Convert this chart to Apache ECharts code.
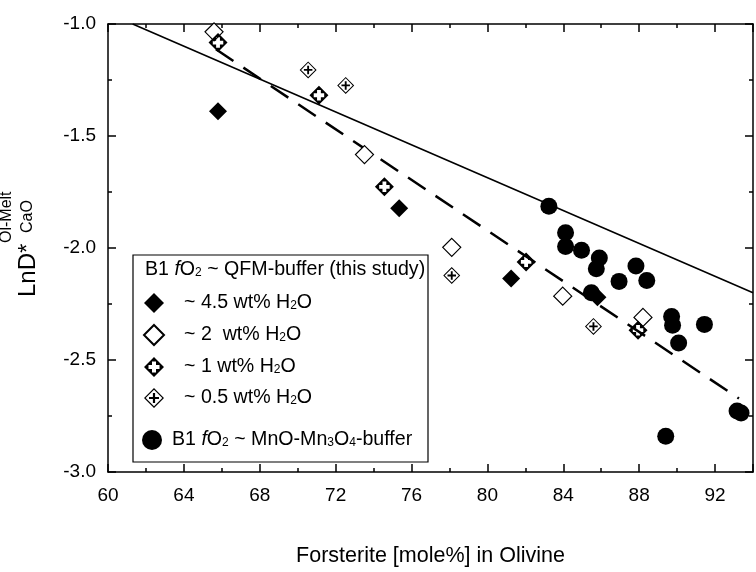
<!DOCTYPE html>
<html><head><meta charset="utf-8">
<script src="https://cdn.jsdelivr.net/npm/echarts@6/dist/echarts.min.js"></script>
<style>html,body{margin:0;padding:0;background:#fff}#c{width:756px;height:572px}</style>
</head><body><div id="c"></div>
<script>
const FONT = 'Liberation Sans, Arial, sans-serif';

// ---- data (Forsterite mole%, LnD*CaO) ----
const qfm45 = [[65.8,-1.39],[75.35,-1.823],[81.25,-2.136],[85.8,-2.22]];
const qfm2  = [[65.59,-1.035],[73.52,-1.583],[78.12,-1.997],[83.97,-2.215],[88.2,-2.31]];
const qfm1  = [[65.8,-1.083],[71.12,-1.318],[74.57,-1.727],[82.04,-2.062],[87.94,-2.367]];
const qfm05 = [[70.55,-1.205],[72.53,-1.274],[78.12,-2.123],[85.59,-2.35]];
const mnoBuffer = [[83.24,-1.814],[84.12,-1.932],[84.12,-1.993],[84.96,-2.01],[85.9,-2.045],
  [85.74,-2.093],[85.48,-2.2],[86.94,-2.149],[87.83,-2.08],[88.4,-2.145],[89.71,-2.306],
  [89.76,-2.345],[90.08,-2.424],[91.44,-2.341],[89.4,-2.84],[93.16,-2.728],[93.37,-2.737]];
const solidLine  = [[61.3,-1.0],[94,-2.2]];
const dashedLine = [[65.69,-1.113],[93.26,-2.672]];

// ---- axes ----
const xTicks = [60,64,68,72,76,80,84,88,92];
const xRange = [60,94];
const yTicks = [-3.0,-2.5,-2.0,-1.5,-1.0];
const yRange = [-3.0,-1.0];

const legendLabels = {
  s45: '{p| }~ 4.5 wt% H{s|2}O',
  s2:  '{p| }~ 2  wt% H{s|2}O',
  s1:  '{p| }~ 1 wt% H{s|2}O',
  s05: '{p| }~ 0.5 wt% H{s|2}O',
  mno: '{q| }B1 {i|f}O{s|2} ~ MnO-Mn{s|3}O{s|4}-buffer'
};
const headerText = 'B1 {i|f}O{s|2} ~ QFM-buffer (this study)';
const yTitle = ['LnD*', 'Ol-Melt', 'CaO'];
const xTitle = 'Forsterite [mole%] in Olivine';

const FILLED_CROSS = 'path://M10,0L20,10L10,20L0,10Z M8,4.5L8,8L4.5,8L4.5,12L8,12L8,15.5L12,15.5L12,12L15.5,12L15.5,8L12,8L12,4.5Z';
const OPEN_CROSS = 'path://M10,0L20,10L10,20L0,10Z M10,1.7L1.7,10L10,18.3L18.3,10Z M8.9,5L11.1,5L11.1,8.9L15,8.9L15,11.1L11.1,11.1L11.1,15L8.9,15L8.9,11.1L5,11.1L5,8.9L8.9,8.9Z';

const LF = 19.6;
const rich = {
  p: {width: 15, fontSize: LF, lineHeight: 18, fontFamily: FONT, color: '#000'},
  q: {width: 5, fontSize: LF, lineHeight: 18, fontFamily: FONT, color: '#000'},
  i: {fontStyle: 'italic', fontSize: LF, lineHeight: 18, fontFamily: FONT, color: '#000'},
  s: {fontSize: 12, lineHeight: 4, verticalAlign: 'bottom', fontFamily: FONT, color: '#000'}
};

const axisLineStyle = {color: '#000', width: 1.5};
function xAxisDef(pos, interval, tickLen, labels, line) {
  return {
    type: 'value', position: pos, min: xRange[0], max: xRange[1], interval: interval,
    axisLine: {show: line, onZero: false, lineStyle: axisLineStyle},
    axisTick: {show: true, inside: true, length: tickLen, lineStyle: axisLineStyle},
    axisLabel: {show: labels, margin: 14, fontSize: 19, fontFamily: FONT, color: '#000',
      formatter: v => xTicks.indexOf(v) >= 0 ? String(v) : ''},
    splitLine: {show: false},
    name: labels ? xTitle : '', nameLocation: 'middle', nameGap: 73,
    nameTextStyle: {fontSize: 21.5, fontFamily: FONT, color: '#000'}
  };
}
function yAxisDef(pos, labels) {
  return {
    type: 'value', position: pos, min: yRange[0], max: yRange[1], interval: 0.5,
    axisLine: {show: true, onZero: false, lineStyle: axisLineStyle},
    axisTick: {show: true, inside: true, length: 8, lineStyle: axisLineStyle},
    minorTick: {show: true, splitNumber: 2, length: 4, lineStyle: axisLineStyle},
    axisLabel: {show: labels, margin: 12, fontSize: 19, fontFamily: FONT, color: '#000',
      formatter: v => yTicks.indexOf(v) >= 0 ? v.toFixed(1) : ''},
    splitLine: {show: false}
  };
}

const chart = echarts.init(document.getElementById('c'), null, {renderer: 'canvas'});
chart.setOption({
  animation: false,
  backgroundColor: '#fff',
  grid: {left: 108, top: 24, width: 651, height: 459},
  xAxis: [
    xAxisDef('bottom', 4, 8, true, true),
    xAxisDef('bottom', 2, 4, false, false),
    xAxisDef('top', 4, 8, false, true),
    xAxisDef('top', 2, 4, false, false)
  ],
  yAxis: [yAxisDef('left', true), yAxisDef('right', false)],
  legend: [
    {data: ['s45','s2','s1','s05'], orient: 'vertical', left: 143, top: 293, padding: 0,
     itemWidth: 20, itemHeight: 20, itemGap: 11, selectedMode: false, z: 10,
     formatter: n => legendLabels[n],
     textStyle: {fontSize: LF, lineHeight: 18, fontFamily: FONT, color: '#000', rich: rich}},
    {data: ['mno'], orient: 'vertical', left: 142, top: 430, padding: 0,
     itemWidth: 20, itemHeight: 20, selectedMode: false, z: 10,
     formatter: n => legendLabels[n],
     textStyle: {fontSize: LF, lineHeight: 18, fontFamily: FONT, color: '#000', rich: rich}}
  ],
  graphic: [
    {type: 'rect', z: 1, shape: {x: 133, y: 255, width: 295, height: 207},
     style: {fill: '#fff', stroke: '#000', lineWidth: 1.2}},
    {type: 'text', z: 10, x: 145, y: 270,
     style: {text: headerText, rich: rich, fontSize: LF, lineHeight: 18, fontFamily: FONT,
       fill: '#000', align: 'left', verticalAlign: 'middle'}},
    {type: 'group', x: 0, y: 297, rotation: Math.PI / 2, children: [
      {type: 'text', x: 0, y: 28, style: {text: yTitle[0], fontSize: 24, fontFamily: FONT, fill: '#000', align: 'left', verticalAlign: 'middle'}},
      {type: 'text', x: 54, y: 7, style: {text: yTitle[1], fontSize: 16, fontFamily: FONT, fill: '#000', align: 'left', verticalAlign: 'middle'}},
      {type: 'text', x: 64, y: 28, style: {text: yTitle[2], fontSize: 16, fontFamily: FONT, fill: '#000', align: 'left', verticalAlign: 'middle'}}
    ]}
  ],
  series: [
    {name: 'solid', type: 'line', data: solidLine, symbol: 'none', silent: true, z: 1,
     lineStyle: {color: '#000', width: 1.6}},
    {name: 'dashed', type: 'line', data: dashedLine, symbol: 'none', silent: true, z: 1,
     lineStyle: {color: '#000', width: 2.5, type: [21, 12]}},
    {name: 's45', type: 'scatter', data: qfm45, symbol: 'diamond', symbolSize: 18,
     itemStyle: {color: '#000', opacity: 1}},
    {name: 's2', type: 'scatter', data: qfm2, symbol: 'diamond', symbolSize: 18,
     itemStyle: {color: '#fff', borderColor: '#000', borderWidth: 1.2, opacity: 1}},
    {name: 's1', type: 'scatter', data: qfm1, symbol: FILLED_CROSS, symbolSize: 19,
     itemStyle: {color: '#000', opacity: 1}},
    {name: 's05', type: 'scatter', data: qfm05, symbol: OPEN_CROSS, symbolSize: 17,
     itemStyle: {color: '#000', opacity: 1}},
    {name: 'mno', type: 'scatter', data: mnoBuffer, symbol: 'circle', symbolSize: 17,
     itemStyle: {color: '#000', opacity: 1}}
  ]
});
</script></body></html>
